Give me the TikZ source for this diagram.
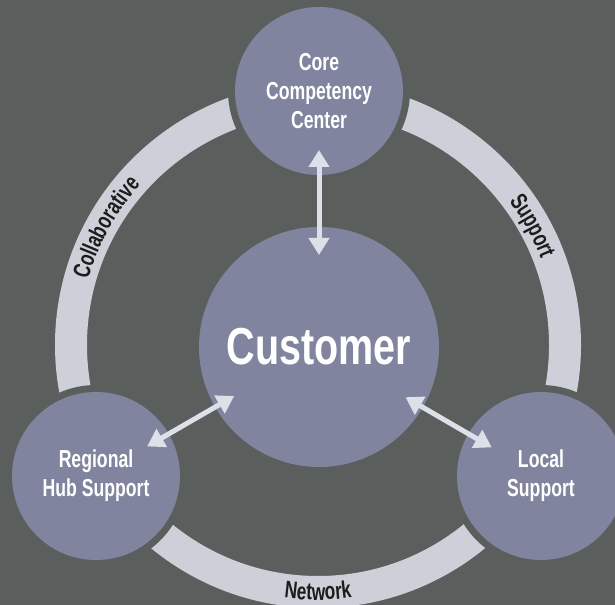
\documentclass[tikz,border=0pt]{standalone}
\usepackage{fontspec}
\newfontfamily\condfont[FakeStretch=0.72]{Liberation Sans}
\newfontfamily\bigcondfont[FakeStretch=0.76]{Liberation Sans}
\usetikzlibrary{arrows.meta,decorations.text,calc}

\definecolor{bgcol}{HTML}{5A5E5C}
\definecolor{ringcol}{HTML}{CDCFD9}
\definecolor{hubcol}{HTML}{80849E}
\definecolor{arrowcol}{HTML}{DDE0E8}
\definecolor{inkcol}{HTML}{1C1C1C}

\newcommand\ringlabelfont{\condfont\bfseries\fontsize{24bp}{24bp}\selectfont\color{inkcol}}

\begin{document}
\begin{tikzpicture}[x=1bp, y=1bp,
  hubnode/.style={circle, fill=hubcol, minimum size=168bp, inner sep=0pt, outer sep=0pt,
    text=white, align=center, font=\condfont\bfseries\fontsize{24.5bp}{29bp}\selectfont},
  centernode/.style={circle, fill=hubcol, minimum size=240bp, inner sep=0pt, outer sep=0pt,
    text=white, font=\bigcondfont\bfseries\fontsize{52bp}{60bp}\selectfont},
  halo/.style={fill=bgcol},
  conn/.style={draw=arrowcol, line width=5bp, >={Triangle[length=17bp,width=20bp]}, <->},
  ringlabel/.style={decorate, decoration={text along path, text align=center, text={#1}}}
]
% canvas
\fill[bgcol] (0,0) rectangle (615,605);
\useasboundingbox (0,0) rectangle (615,605);

% centres
\coordinate (ringc) at (318,260);
\coordinate (pcore) at (319,514);
\coordinate (pcust) at (319,258);
\coordinate (phub) at (96,129);
\coordinate (plocal) at (541,129);

% outer ring
\draw[ringcol, line width=32bp] (ringc) circle[radius=247bp];

% gaps where the ring meets the outer circles
\fill[halo] (pcore) circle[radius=91bp];
\fill[halo] (phub) circle[radius=91bp];
\fill[halo] (plocal) circle[radius=91bp];

% circles
\node[hubnode] (core) at (pcore) {Core\\Competency\\Center};
\node[hubnode] (hub) at (phub) {Regional\\Hub Support};
\node[hubnode] (local) at (plocal) {Local\\Support};
\node[centernode] (cust) at (pcust) {Customer};

% two-way links
\draw[conn, shorten <=-28bp, shorten >=-25bp] (cust) -- (core);
\draw[conn, shorten <=-22bp, shorten >=-25bp] (cust) -- (hub);
\draw[conn, shorten <=-20bp, shorten >=-27bp] (cust) -- (local);

% labels along the ring
\path[ringlabel={|\ringlabelfont|Collaborative}]
  ($(ringc)+(176:239bp)$) arc[start angle=176, end angle=126, radius=239bp];
\path[ringlabel={|\ringlabelfont|Support}]
  ($(ringc)+(54:239bp)$) arc[start angle=54, end angle=4, radius=239bp];
\path[ringlabel={|\ringlabelfont|Network}]
  ($(ringc)+(245:255bp)$) arc[start angle=245, end angle=295, radius=255bp];
\end{tikzpicture}
\end{document}
